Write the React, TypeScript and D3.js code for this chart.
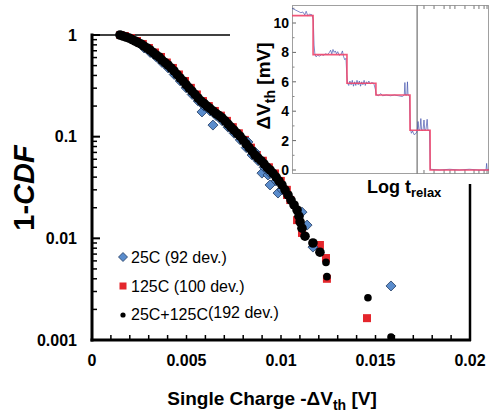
import React from "react";
import * as d3 from "d3";

// ---- Main chart data: [ΔVth (V), 1-CDF] ----
const combined192: [number, number][] = [
  [0.00148, 1.0], [0.00164, 0.977], [0.0018, 0.956], [0.00196, 0.934], [0.00212, 0.903],
  [0.00228, 0.873], [0.00243, 0.844], [0.00259, 0.816], [0.00275, 0.779], [0.00291, 0.745],
  [0.00307, 0.712], [0.00323, 0.673], [0.00339, 0.636], [0.00355, 0.608], [0.0037, 0.567],
  [0.00386, 0.536], [0.00402, 0.507], [0.00418, 0.474], [0.00434, 0.443], [0.0045, 0.409],
  [0.00466, 0.378], [0.00482, 0.353], [0.00497, 0.326], [0.00513, 0.302], [0.00529, 0.281],
  [0.00545, 0.26], [0.00561, 0.24], [0.00577, 0.224], [0.00593, 0.212], [0.00608, 0.2],
  [0.00624, 0.19], [0.0064, 0.179], [0.00656, 0.169], [0.00672, 0.161], [0.00688, 0.153],
  [0.00704, 0.143], [0.0072, 0.133], [0.00735, 0.124], [0.00751, 0.116], [0.00767, 0.108],
  [0.00783, 0.101], [0.00799, 0.093], [0.00815, 0.085], [0.00831, 0.078], [0.00847, 0.072],
  [0.00862, 0.066], [0.00878, 0.062], [0.00894, 0.058], [0.0091, 0.054], [0.00926, 0.05],
  [0.00942, 0.047], [0.00958, 0.0435], [0.00974, 0.04], [0.00989, 0.0367], [0.01005, 0.0335],
  [0.01021, 0.03], [0.01037, 0.0267], [0.01053, 0.0238], [0.01069, 0.0213], [0.01085, 0.019],
  [0.01095, 0.0165], [0.01101, 0.0145], [0.01111, 0.0126], [0.01127, 0.0105], [0.01169, 0.009],
  [0.01206, 0.0073], [0.01238, 0.0058], [0.01243, 0.0042], [0.0146, 0.0026], [0.01582, 0.00107],
];

const hot125: [number, number][] = [
  [0.0015, 1.0], [0.00174, 0.977], [0.00206, 0.934], [0.00238, 0.873], [0.00269, 0.816],
  [0.00301, 0.745], [0.00333, 0.673], [0.00365, 0.608], [0.00396, 0.536], [0.00428, 0.474],
  [0.0046, 0.409], [0.00492, 0.353], [0.00523, 0.302], [0.00555, 0.26], [0.00587, 0.224],
  [0.00618, 0.2], [0.0065, 0.179], [0.00682, 0.161], [0.00714, 0.143], [0.00745, 0.124],
  [0.00777, 0.108], [0.00809, 0.093], [0.00841, 0.078], [0.00872, 0.066], [0.00904, 0.058],
  [0.00936, 0.05], [0.00968, 0.0435], [0.00999, 0.0367], [0.01031, 0.03], [0.01032, 0.0267],
  [0.01049, 0.0238], [0.01085, 0.0151], [0.01111, 0.0113], [0.01206, 0.0086], [0.01238, 0.0064],
  [0.01243, 0.004], [0.01455, 0.00164],
];

const room25: [number, number][] = [
  [0.00276, 0.745], [0.00308, 0.673], [0.0034, 0.608], [0.00371, 0.536], [0.00403, 0.474],
  [0.00435, 0.409], [0.00467, 0.353], [0.00498, 0.302], [0.0053, 0.26], [0.00562, 0.224],
  [0.00582, 0.175], [0.00593, 0.2], [0.00625, 0.179], [0.0064, 0.13], [0.00657, 0.161],
  [0.00689, 0.143], [0.0072, 0.124], [0.00752, 0.108], [0.00784, 0.093], [0.00816, 0.078],
  [0.00825, 0.0887], [0.00847, 0.066], [0.00862, 0.0708], [0.00879, 0.058], [0.00899, 0.0438],
  [0.00911, 0.05], [0.00931, 0.042], [0.00942, 0.0335], [0.00943, 0.0435], [0.00974, 0.0367],
  [0.00984, 0.0279], [0.01006, 0.03], [0.01111, 0.0181], [0.01138, 0.0135], [0.01169, 0.0082],
  [0.01582, 0.0034],
];

const xTickLabels = ["0", "0.005", "0.01", "0.015", "0.02"];
const xTickValues = [0, 0.005, 0.01, 0.015, 0.02];
const yTickLabels = ["0.001", "0.01", "0.1", "1"];
const yTickValues = [0.001, 0.01, 0.1, 1];

const legendLabels = ["25C (92 dev.)", "125C (100 dev.)", "25C+125C"];

// ---- Inset data: relaxation trace (log t arbitrary units 0..100, ΔVth mV) ----
const stepTimes = [0, 10.7, 27.9, 42.6, 59.9, 70.1, 100];
const stepLevels = [10.5, 7.85, 5.9, 5.1, 2.7, 0, 0];

const rawTrace: [number, number][] = [
  [0, 11.0], [1.5, 10.9], [3, 10.8], [4.5, 10.7], [5.5, 10.75], [6.5, 10.55], [7.2, 10.8], [8, 10.5],
  [9, 10.6], [10.2, 10.55], [10.8, 10.2], [11.2, 8.5], [11.6, 7.9], [12.2, 7.7], [13, 7.8], [14, 7.75],
  [15, 7.85], [16, 7.8], [17, 7.9], [18, 7.85], [19, 8.0], [19.6, 8.15], [20.2, 7.9], [20.8, 8.2],
  [21.4, 8.0], [22, 8.1], [22.6, 7.9], [23.2, 8.05], [24, 7.8], [25, 7.9], [25.6, 8.1], [26.2, 7.7],
  [26.8, 7.5], [27.4, 7.6], [27.8, 6.5], [28.2, 5.9], [28.8, 5.75], [29.4, 6.05], [30, 5.8], [30.6, 6.1],
  [31.2, 5.7], [31.8, 6.0], [32.4, 5.75], [33, 6.1], [33.6, 5.8], [34.2, 6.05], [34.8, 5.7], [35.4, 6.0],
  [36, 5.8], [36.6, 6.1], [37.2, 5.75], [37.8, 6.0], [38.4, 5.85], [39, 6.05], [39.6, 5.85], [40.5, 5.95],
  [41.5, 5.9], [42.3, 5.5], [42.8, 5.1], [44, 5.05], [45, 5.2], [46, 5.05], [48, 5.1], [50, 5.05],
  [52, 5.1], [54, 5.05], [56, 5.0], [57, 5.1], [57.3, 5.95], [57.6, 5.1], [58.3, 5.1], [58.6, 6.0],
  [58.9, 5.1], [59.6, 5.05], [60.1, 2.8], [60.6, 2.5], [61.2, 2.65], [62, 2.4], [63, 2.5], [63.6, 2.7],
  [64, 3.3], [64.4, 2.7], [65, 2.75], [65.4, 3.5], [65.8, 2.7], [66.5, 2.7], [67, 3.4], [67.4, 2.7],
  [68, 2.75], [68.6, 3.45], [69, 2.7], [69.8, 2.7], [70.2, 0.05], [75, 0.0], [80, 0.05], [85, 0.0],
  [90, 0.05], [95, 0.0], [98.5, 0.0], [98.8, 0.45], [99.1, 0.0], [100, 0.05],
];

const insetYTicks = [0, 2, 4, 6, 8, 10];
const insetMinorY = [1, 3, 5, 7, 9, 11];
const insetLogTicks = [67.0, 72.1, 77.2, 80.2, 82.7, 87.8, 92.4, 94.9, 97.5, 99.0];
const markerTime = 63.5;

export default function App() {
  const W = 490, H = 417;
  const x = d3.scaleLinear().domain([0, 0.02]).range([92, 470]);
  const y = d3.scaleLog().domain([0.001, 1]).range([340, 35]);

  const minorY: number[] = [];
  [0.001, 0.01, 0.1].forEach((d) => {
    for (let k = 2; k <= 9; k++) minorY.push(d * k);
  });
  const minorX = d3.range(0, 21).map((i) => i * 0.001);

  const ix = d3.scaleLinear().domain([0, 100]).range([292, 489]);
  const iy = d3.scaleLinear().domain([0, 10]).range([170, 23]);
  const stepLine = d3
    .line<number>()
    .x((_, i) => ix(stepTimes[i]))
    .y((d) => iy(d))
    .curve(d3.curveStepAfter);
  const traceLine = d3
    .line<[number, number]>()
    .x((d) => ix(d[0]))
    .y((d) => iy(d[1]));

  const diamond = (cx: number, cy: number, r: number) =>
    `M${cx},${cy - r}L${cx + r},${cy}L${cx},${cy + r}L${cx - r},${cy}Z`;

  const blue = "#5a8ccc";
  const blueStroke = "#213a60";
  const red = "#e4262c";
  const font = "Liberation Sans, Arial, Helvetica, sans-serif";

  return (
    <svg
      width={W}
      height={H}
      style={{ position: "absolute", left: 0, top: 0, background: "#fff" }}
      fontFamily={font}
    >
      <rect x={0} y={0} width={W} height={H} fill="#fff" />
      {/* frame */}
      <line x1={92} y1={35} x2={230} y2={35} stroke="#000" strokeWidth={1.5} />
      <line x1={470} y1={184} x2={470} y2={341} stroke="#000" strokeWidth={2.5} />

      {/* data */}
      <g>
        {hot125.map((d, i) => (
          <rect key={"r" + i} x={x(d[0]) - 4} y={y(d[1]) - 4} width={8} height={8} fill={red} />
        ))}
        {room25.map((d, i) => (
          <path key={"b" + i} d={diamond(x(d[0]), y(d[1]), 5)} fill={blue} stroke={blueStroke} strokeWidth={0.8} />
        ))}
        {combined192.map((d, i) => (
          <circle key={"k" + i} cx={x(d[0])} cy={y(d[1])} r={i < 66 ? 4.8 : 3.8} fill="#000" />
        ))}
      </g>

      {/* axes */}
      <line x1={92} y1={33.5} x2={92} y2={341.5} stroke="#000" strokeWidth={3} />
      <line x1={90.5} y1={340} x2={471} y2={340} stroke="#000" strokeWidth={3} />
      {yTickValues.map((v) => (
        <line key={"ym" + v} x1={92} x2={100} y1={y(v)} y2={y(v)} stroke="#000" strokeWidth={2} />
      ))}
      {minorY.map((v, i) => (
        <line key={"yn" + i} x1={92} x2={97} y1={y(v)} y2={y(v)} stroke="#000" strokeWidth={1.5} />
      ))}
      {minorX.map((v, i) => (
        <line key={"xn" + i} x1={x(v)} x2={x(v)} y1={340} y2={335} stroke="#000" strokeWidth={1.5} />
      ))}
      {yTickValues.map((v, i) => (
        <text key={"yl" + i} x={77} y={y(v)} dy="0.36em" textAnchor="end" fontSize={16} fontWeight="bold">
          {yTickLabels[i]}
        </text>
      ))}
      {xTickValues.map((v, i) => (
        <text key={"xl" + i} x={x(v)} y={366} textAnchor="middle" fontSize={16} fontWeight="bold">
          {xTickLabels[i]}
        </text>
      ))}
      <text x={272} y={405} textAnchor="middle" fontSize={19} fontWeight="bold">
        Single Charge -ΔV<tspan fontSize={14} dy={5}>th</tspan>
        <tspan dy={-5}> [V]</tspan>
      </text>
      <text transform="translate(34,188) rotate(-90)" textAnchor="middle" fontSize={29} fontWeight="bold">
        1-<tspan fontStyle="italic">CDF</tspan>
      </text>

      {/* legend */}
      <path d={diamond(123, 257, 4.5)} fill={blue} stroke={blueStroke} strokeWidth={0.8} />
      <text x={131} y={262.5} fontSize={16}>{legendLabels[0]}</text>
      <rect x={119.5} y={282.5} width={7} height={7} fill={red} />
      <text x={131} y={291.5} fontSize={16}>{legendLabels[1]}</text>
      <circle cx={123} cy={315} r={2.6} fill="#000" />
      <text x={131} y={320} fontSize={16}>
        {legendLabels[2]}
        <tspan dy={-2}>(192 dev.)</tspan>
      </text>

      {/* inset */}
      <g>
        <rect x={292.5} y={5.5} width={196} height={168} fill="#fff" stroke="#a0a0a0" strokeWidth={1} />
        {insetYTicks.map((v) => (
          <line key={"iy" + v} x1={292.5} x2={296} y1={iy(v)} y2={iy(v)} stroke="#666" strokeWidth={1} />
        ))}
        {insetMinorY.map((v) => (
          <line key={"iym" + v} x1={292.5} x2={294.5} y1={iy(v)} y2={iy(v)} stroke="#888" strokeWidth={1} />
        ))}
        {insetLogTicks.map((t, i) => (
          <g key={"it" + i}>
            <line x1={ix(t)} x2={ix(t)} y1={5.5} y2={9} stroke="#777" strokeWidth={1} />
            <line x1={ix(t)} x2={ix(t)} y1={173.5} y2={170} stroke="#777" strokeWidth={1} />
          </g>
        ))}
        {insetYTicks.map((v) => (
          <text key={"iyl" + v} x={289} y={iy(v)} dy="0.36em" textAnchor="end" fontSize={14} fontWeight="bold">
            {v}
          </text>
        ))}
        <line x1={ix(markerTime)} x2={ix(markerTime)} y1={5.5} y2={173.5} stroke="#555" strokeWidth={1} />
        <path d={traceLine(rawTrace) || ""} fill="none" stroke="#3848a8" strokeWidth={0.8} strokeOpacity={0.8} />
        <path d={stepLine(stepLevels) || ""} fill="none" stroke="#f0456a" strokeWidth={1.6} strokeOpacity={0.9} />
        <text transform="translate(270,86) rotate(-90)" textAnchor="middle" fontSize={19} fontWeight="bold">
          ΔV<tspan fontSize={14} dy={5}>th</tspan>
          <tspan dy={-5}> [mV]</tspan>
        </text>
        <text x={367} y={193} fontSize={18} fontWeight="bold">
          Log t<tspan fontSize={13} dy={4}>relax</tspan>
        </text>
      </g>
    </svg>
  );
}
